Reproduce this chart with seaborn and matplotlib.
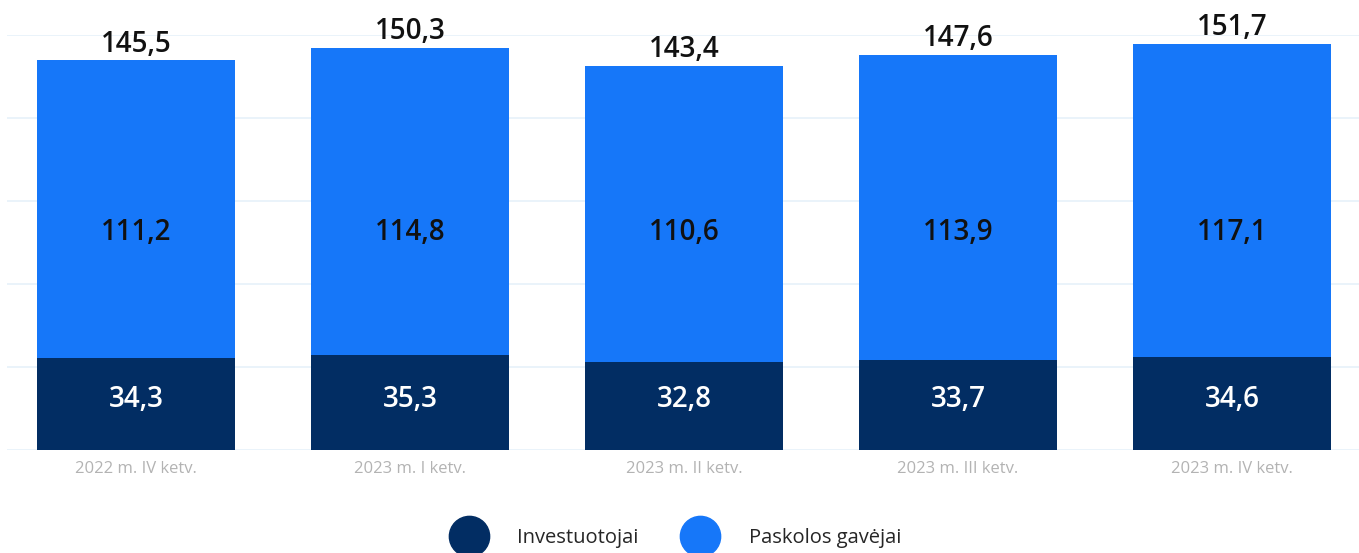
import matplotlib
matplotlib.use("Agg")
import matplotlib.pyplot as plt
from matplotlib.lines import Line2D
import seaborn as sns
import pandas as pd
import numpy as np

categories = ["2022 m. IV ketv.", "2023 m. I ketv.", "2023 m. II ketv.", "2023 m. III ketv.", "2023 m. IV ketv."]
investuotojai = [34.3, 35.3, 32.8, 33.7, 34.6]
paskolos = [111.2, 114.8, 110.6, 113.9, 117.1]
totals = [145.5, 150.3, 143.4, 147.6, 151.7]
series_names = ["Investuotojai", "Paskolos gavėjai"]

DARK = "#022d63"
BLUE = "#1677f9"
GRID = "#e6f1fa"

sns.set_theme(style="white")
plt.rcParams["font.family"] = ["Open Sans", "DejaVu Sans"]

def fmt(v):
    return f"{v:.1f}".replace(".", ",")

df = pd.DataFrame({"cat": categories, "inv": investuotojai, "pask": paskolos, "total": totals})

fig = plt.figure(figsize=(13.59, 5.53), dpi=100)
W, H = 1359, 553
ax = fig.add_axes([7 / W, (H - 450) / H, 1352 / W, 415 / H])

sns.barplot(data=df, x="cat", y="total", color=BLUE, width=0.72, saturation=1, ax=ax,
            zorder=3, linewidth=0, edgecolor="none")
sns.barplot(data=df, x="cat", y="inv", color=DARK, width=0.72, saturation=1, ax=ax,
            zorder=4, linewidth=0, edgecolor="none")

ax.set_ylim(0, 155)
ax.set_xlim((7 - 136) / 274, (1359 - 136) / 274)
ax.set_yticks(np.arange(0, 156, 31))
ax.yaxis.grid(True, color=GRID, linewidth=1.2, zorder=0)
ax.set_axisbelow(True)
for s in ax.spines.values():
    s.set_visible(False)
ax.set_ylabel("")
ax.set_xlabel("")
ax.tick_params(axis="y", left=False, labelleft=False)
ax.tick_params(axis="x", bottom=False, labelsize=12, labelcolor="#b3b3b3", pad=2)

for i in range(len(categories)):
    ax.text(i, totals[i] + 0.6, fmt(totals[i]), ha="center", va="bottom", fontsize=20,
            fontweight="semibold", color="#111111", clip_on=False, zorder=5)
    ax.text(i, 81.2, fmt(paskolos[i]), ha="center", va="center", fontsize=20,
            fontweight="semibold", color="#111111", zorder=5)
    ax.text(i, 18.8, fmt(investuotojai[i]), ha="center", va="center", fontsize=20,
            fontweight="semibold", color="white", zorder=5)

handles = [Line2D([], [], marker="o", linestyle="", markersize=29, markerfacecolor=c, markeredgecolor=c)
           for c in (DARK, BLUE)]
fig.legend(handles, series_names, loc="center", bbox_to_anchor=(674 / W, 1 - 538 / H), ncol=2,
           frameon=False, fontsize=14.5, handletextpad=1.3, columnspacing=1.95, handlelength=2.2)

fig.savefig("out.png", dpi=100, facecolor="white")
